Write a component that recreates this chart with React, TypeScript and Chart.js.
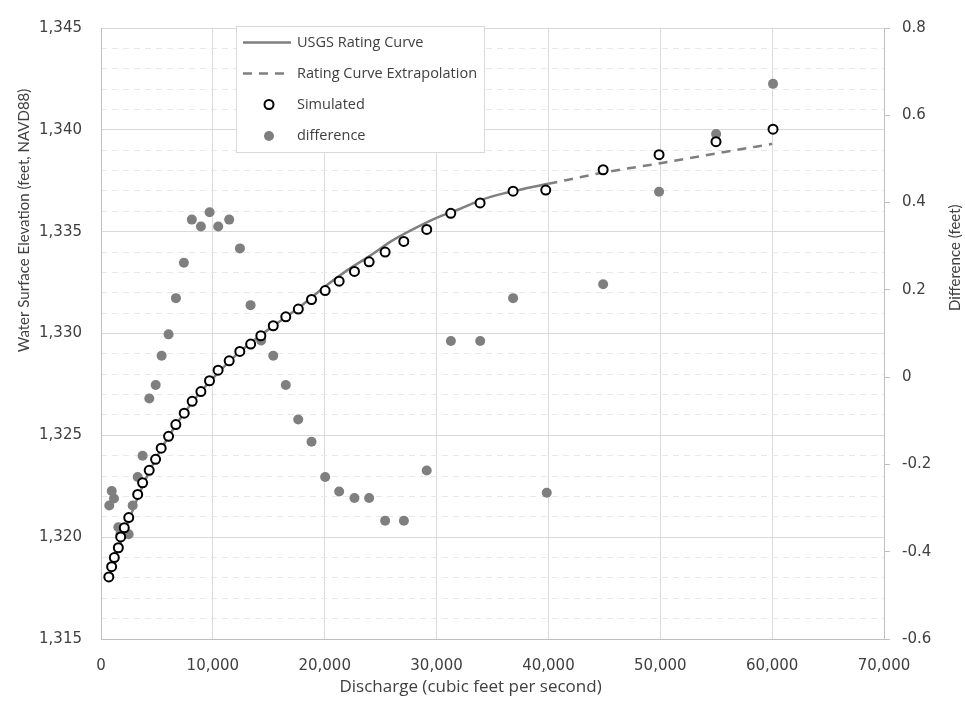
import React, { useEffect, useRef } from 'react';
import { Chart, registerables } from 'chart.js';

Chart.register(...registerables);

// ---------- data ----------
const ratingQ = [700, 1000, 1500, 2000, 3000, 4000, 5000, 6000, 7000, 8000, 9000, 10000, 12000, 14000, 16000, 18000, 20000, 22000, 24000, 26000, 28000, 30000, 32000, 34000, 36000, 38000, 40000];
const ratingElev = [1318.0, 1318.55, 1319.35, 1320.1, 1321.55, 1322.85, 1323.95, 1324.9, 1325.75, 1326.5, 1327.2, 1327.8, 1328.9, 1329.8, 1330.6, 1331.4, 1332.3, 1333.1, 1333.8, 1334.55, 1335.15, 1335.68, 1336.1, 1336.56, 1336.88, 1337.13, 1337.35];

const extrapQ = [40000, 45000, 50000, 55000, 60000];
const extrapElev = [1337.35, 1337.91, 1338.36, 1338.84, 1339.31];

const simQ = [700, 950, 1190, 1550, 1760, 2080, 2480, 3280, 3720, 4310, 4880, 5380, 6040, 6690, 7440, 8150, 8930, 9700, 10470, 11460, 12410, 13380, 14290, 15400, 16520, 17640, 18820, 20040, 21290, 22660, 23970, 25400, 27070, 29120, 31270, 33890, 36840, 39760, 44890, 49890, 54980, 60080];
const simElev = [1318.05, 1318.55, 1319.0, 1319.48, 1320.01, 1320.46, 1320.96, 1322.1, 1322.67, 1323.28, 1323.82, 1324.37, 1324.95, 1325.53, 1326.09, 1326.67, 1327.15, 1327.68, 1328.2, 1328.66, 1329.12, 1329.48, 1329.89, 1330.38, 1330.82, 1331.2, 1331.67, 1332.11, 1332.57, 1333.05, 1333.52, 1334.0, 1334.52, 1335.11, 1335.9, 1336.41, 1336.99, 1337.04, 1338.04, 1338.78, 1339.42, 1340.03];

const diffQ = [740, 960, 1160, 1550, 1740, 2100, 2470, 2830, 3280, 3720, 4320, 4890, 5420, 6040, 6700, 7410, 8120, 8930, 9710, 10480, 11460, 12420, 13370, 14320, 15400, 16520, 17630, 18820, 20040, 21290, 22660, 23970, 25400, 27080, 29120, 31280, 33900, 36840, 39850, 44890, 49890, 54990, 60080];
const diffVal = [-0.294, -0.261, -0.278, -0.344, -0.36, -0.355, -0.36, -0.294, -0.229, -0.18, -0.049, -0.018, 0.049, 0.098, 0.181, 0.262, 0.361, 0.345, 0.378, 0.345, 0.361, 0.295, 0.165, 0.084, 0.049, -0.018, -0.097, -0.148, -0.229, -0.262, -0.277, -0.277, -0.329, -0.329, -0.214, 0.083, 0.083, 0.181, -0.265, 0.213, 0.425, 0.557, 0.672];

const seriesNames = ['USGS Rating Curve', 'Rating Curve Extrapolation', 'Simulated', 'difference'];
const xTitle = 'Discharge (cubic feet per second)';
const yTitle = 'Water Surface Elevation (feet, NAVD88)';
const y2Title = 'Difference (feet)';

// ---------- styles ----------
const GRAY = '#7f7f7f';
const TEXT = '#404040';
const GRID = '#d9d9d9';
const MINOR = '#e8e8e8';
const AXIS = '#bfbfbf';
const TICK_FONT = { family: 'DejaVu Sans', size: 15 };
const X_TITLE_FONT = '17px "Open Sans"';
const Y_TITLE_FONT = '15px Lato';
const LEGEND_FONT = '14.5px "Open Sans"';

const zip = (xs: number[], ys: number[]) => xs.map((x, i) => ({ x, y: ys[i] }));

const titlesPlugin = {
  id: 'titles',
  afterDraw(chart: any) {
    const { ctx, chartArea } = chart;
    ctx.save();
    ctx.fillStyle = TEXT;
    ctx.textAlign = 'center';
    ctx.textBaseline = 'middle';
    // x title
    ctx.font = X_TITLE_FONT;
    ctx.fillText(xTitle, chartArea.left + (chartArea.right - chartArea.left) * 0.472, 687);
    ctx.font = Y_TITLE_FONT;
    // left title
    ctx.save();
    ctx.translate(24, chartArea.top + (chartArea.bottom - chartArea.top) * 0.315);
    ctx.rotate(-Math.PI / 2);
    ctx.fillText(yTitle, 0, 0);
    ctx.restore();
    // right title
    ctx.save();
    ctx.translate(955, chartArea.top + (chartArea.bottom - chartArea.top) * 0.376);
    ctx.rotate(-Math.PI / 2);
    ctx.fillText(y2Title, 0, 0);
    ctx.restore();
    ctx.restore();
  },
};

const legendPlugin = {
  id: 'insideLegend',
  afterDatasetsDraw(chart: any) {
    const { ctx } = chart;
    const bx = 236, by = 26, bw = 248, bh = 126;
    ctx.save();
    ctx.fillStyle = '#ffffff';
    ctx.fillRect(bx, by, bw, bh);
    ctx.strokeStyle = GRID;
    ctx.lineWidth = 1;
    ctx.strokeRect(bx + 0.5, by + 0.5, bw, bh);
    const rows = [42.5, 73.5, 104.5, 136];
    seriesNames.forEach((name, i) => {
      const ds = chart.data.datasets.find((d: any) => d.label === name);
      const y = rows[i];
      if (ds.showLine) {
        ctx.beginPath();
        ctx.strokeStyle = ds.borderColor;
        ctx.lineWidth = ds.borderWidth;
        ctx.setLineDash(ds.borderDash || []);
        ctx.moveTo(243, y);
        ctx.lineTo(291, y);
        ctx.stroke();
        ctx.setLineDash([]);
      } else {
        ctx.beginPath();
        ctx.arc(269, y, ds.pointRadius, 0, Math.PI * 2);
        ctx.fillStyle = ds.pointBackgroundColor;
        ctx.fill();
        if (ds.pointBorderWidth > 0) {
          ctx.strokeStyle = ds.pointBorderColor;
          ctx.lineWidth = ds.pointBorderWidth;
          ctx.stroke();
        }
      }
      ctx.fillStyle = TEXT;
      ctx.font = LEGEND_FONT;
      ctx.textAlign = 'left';
      ctx.textBaseline = 'middle';
      ctx.fillText(name, 297, y);
    });
    ctx.restore();
  },
};

export default function App() {
  const ref = useRef<HTMLCanvasElement | null>(null);

  useEffect(() => {
    document.body.style.margin = '0';
    const canvas = ref.current;
    if (!canvas) return;
    const chart = new Chart(canvas, {
      type: 'scatter',
      data: {
        datasets: [
          {
            label: seriesNames[0],
            data: zip(ratingQ, ratingElev),
            showLine: true,
            borderColor: GRAY,
            borderWidth: 2.5,
            pointRadius: 0,
            cubicInterpolationMode: 'monotone',
            yAxisID: 'y',
            order: 4,
          } as any,
          {
            label: seriesNames[1],
            data: zip(extrapQ, extrapElev),
            showLine: true,
            borderColor: GRAY,
            borderWidth: 2.5,
            borderDash: [9, 7],
            pointRadius: 0,
            cubicInterpolationMode: 'monotone',
            yAxisID: 'y',
            order: 4,
          },
          {
            label: seriesNames[2],
            data: zip(simQ, simElev),
            showLine: false,
            pointRadius: 4.5,
            pointBorderWidth: 2,
            pointBorderColor: '#000000',
            pointBackgroundColor: '#ffffff',
            yAxisID: 'y',
            order: 1,
          },
          {
            label: seriesNames[3],
            data: zip(diffQ, diffVal),
            showLine: false,
            pointRadius: 5,
            pointBorderWidth: 0,
            pointBorderColor: GRAY,
            pointBackgroundColor: GRAY,
            yAxisID: 'y2',
            order: 2,
          },
        ],
      },
      options: {
        animation: false,
        responsive: false,
        maintainAspectRatio: false,
        layout: { padding: { top: 17, left: 0, right: 0, bottom: 0 } },
        plugins: { legend: { display: false }, tooltip: { enabled: false } },
        scales: {
          x: {
            type: 'linear',
            min: 0,
            max: 70000,
            ticks: {
              stepSize: 10000,
              font: TICK_FONT,
              color: TEXT,
              padding: 18,
              maxRotation: 0,
              callback: (v: any) => Number(v).toLocaleString('en-US'),
            },
            grid: { color: GRID, drawTicks: false },
            border: { color: AXIS },
            afterFit: (s: any) => { s.height = 70; },
          },
          y: {
            type: 'linear',
            position: 'left',
            min: 1315,
            max: 1345,
            ticks: {
              stepSize: 5,
              font: TICK_FONT,
              color: TEXT,
              padding: 19,
              callback: (v: any) => Number(v).toLocaleString('en-US'),
            },
            grid: { color: GRID, drawTicks: false },
            border: { color: AXIS },
            afterFit: (s: any) => { s.width = 101; },
          },
          yMinor: {
            type: 'linear',
            position: 'left',
            min: 1315,
            max: 1345,
            ticks: { stepSize: 1, display: false },
            grid: {
              drawTicks: false,
              color: (c: any) => (Math.round(c.tick.value) % 5 === 0 ? 'rgba(0,0,0,0)' : MINOR),
            },
            border: { display: false, dash: [6, 5] },
            afterFit: (s: any) => { s.width = 0; },
          },
          y2: {
            type: 'linear',
            position: 'right',
            min: -0.6,
            max: 0.8,
            ticks: {
              stepSize: 0.2,
              font: TICK_FONT,
              color: TEXT,
              padding: 12,
              callback: (v: any) => {
                const n = Math.round(Number(v) * 10) / 10;
                return n === 0 ? '0' : n.toFixed(1);
              },
            },
            grid: { drawOnChartArea: false, drawTicks: true, tickLength: 6, tickColor: AXIS },
            border: { color: AXIS },
            afterFit: (s: any) => { s.width = 81; },
          },
        },
      },
      plugins: [legendPlugin, titlesPlugin],
    } as any);
    return () => chart.destroy();
  }, []);

  return (
    <div style={{ width: 965, height: 709, background: '#ffffff' }}>
      <canvas ref={ref} width={965} height={709} style={{ display: 'block' }} />
    </div>
  );
}
